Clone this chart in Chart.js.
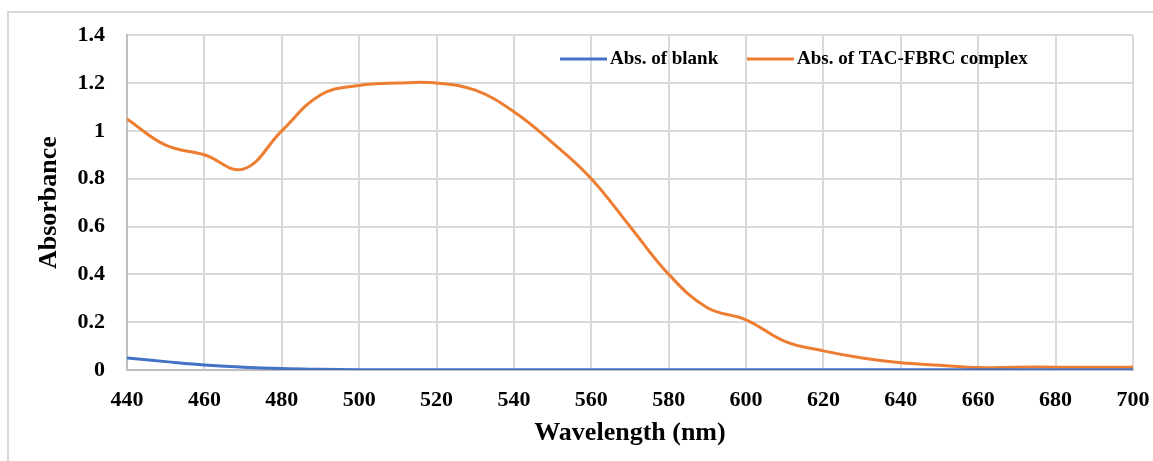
<!DOCTYPE html>
<html>
<head>
<meta charset="utf-8">
<script src="https://cdn.jsdelivr.net/npm/chart.js@4"></script>
<style>
  html, body { margin: 0; padding: 0; background: #fff; }
  #wrap { width: 1153px; height: 461px; position: relative; }
</style>
</head>
<body>
<div id="wrap"><canvas id="grafico"></canvas></div>
<script>
const longitudes = [440, 450, 460, 470, 480, 490, 500, 510, 520, 530, 540, 550, 560, 570, 580, 590, 600, 610, 620, 630, 640, 650, 660, 670, 680, 690, 700];
const absBlanco = [0.05, 0.035, 0.021, 0.012, 0.006, 0.003, 0.001, 0.001, 0.001, 0.001, 0.001, 0.001, 0.001, 0.001, 0.001, 0.001, 0.001, 0.001, 0.001, 0.001, 0.001, 0.001, 0.001, 0.001, 0.001, 0.001, 0.001];
const absComplejo = [1.05, 0.94, 0.90, 0.84, 1.0, 1.15, 1.19, 1.20, 1.20, 1.17, 1.08, 0.95, 0.80, 0.60, 0.40, 0.26, 0.21, 0.12, 0.08, 0.05, 0.03, 0.02, 0.01, 0.012, 0.012, 0.012, 0.012];
const etiquetas = ["Abs. of blank", "Abs. of TAC-FBRC complex"];
const ticksY = [0, 0.2, 0.4, 0.6, 0.8, 1, 1.2, 1.4];

const fuente = "'Liberation Serif', 'Times New Roman', serif";

// leyenda dibujada dentro del área del gráfico, como en el original
const leyendaInterna = {
  id: "leyendaInterna",
  beforeDraw(chart) {
    const c = chart.ctx;
    c.save();
    c.strokeStyle = "#d9d9d9";
    c.lineWidth = 2;
    c.strokeRect(8, 12, 1160, 470);
    c.restore();
  },
  afterDraw(chart) {
    const c = chart.ctx;
    const items = [
      { x: 560, ds: chart.data.datasets[0] },
      { x: 747, ds: chart.data.datasets[1] }
    ];
    c.save();
    c.font = "bold 19px " + fuente;
    c.textBaseline = "middle";
    items.forEach(it => {
      c.strokeStyle = it.ds.borderColor;
      c.lineWidth = 3;
      c.beginPath();
      c.moveTo(it.x, 59);
      c.lineTo(it.x + 47, 59);
      c.stroke();
      c.fillStyle = "#000";
      c.fillText(it.ds.label, it.x + 50, 59);
    });
    c.restore();
  }
};

new Chart(document.getElementById("grafico"), {
  type: "line",
  data: {
    datasets: [
      {
        label: etiquetas[0],
        data: longitudes.map((x, i) => ({ x: x, y: absBlanco[i] })),
        borderColor: "#4472C4",
        borderWidth: 3,
        pointRadius: 0,
        tension: 0.4
      },
      {
        label: etiquetas[1],
        data: longitudes.map((x, i) => ({ x: x, y: absComplejo[i] })),
        borderColor: "#ED7D31",
        borderWidth: 3,
        pointRadius: 0,
        tension: 0.4
      }
    ]
  },
  options: {
    responsive: true,
    maintainAspectRatio: false,
    animation: false,
    layout: { padding: { left: 30, right: 20, top: 34, bottom: 8 } },
    plugins: {
      legend: { display: false },
      tooltip: { enabled: false }
    },
    scales: {
      x: {
        type: "linear",
        min: 440,
        max: 700,
        ticks: {
          stepSize: 20,
          color: "#000",
          padding: 17,
          font: { family: fuente, size: 22, weight: "bold" }
        },
        grid: { color: "#d9d9d9", lineWidth: 2, drawTicks: false },
        border: { color: "#bfbfbf", width: 2 },
        title: {
          display: true,
          text: "Wavelength (nm)",
          color: "#000",
          padding: { top: 6 },
          font: { family: fuente, size: 26, weight: "bold" }
        },
        afterFit(scale) {
          scale.height = 83;
          scale.paddingLeft = 0;
          scale.paddingRight = 0;
        }
      },
      y: {
        min: 0,
        max: 1.4,
        afterBuildTicks(scale) { scale.ticks = ticksY.map(v => ({ value: v })); },
        ticks: {
          color: "#000",
          padding: 22,
          callback: v => String(v),
          font: { family: fuente, size: 22, weight: "bold" }
        },
        grid: { color: "#d9d9d9", lineWidth: 2, drawTicks: false },
        border: { color: "#bfbfbf", width: 2 },
        title: {
          display: true,
          text: "Absorbance",
          color: "#000",
          padding: { bottom: 4 },
          font: { family: fuente, size: 26, weight: "bold" }
        },
        afterFit(scale) { scale.width = 97; }
      }
    }
  },
  plugins: [leyendaInterna]
});
</script>
</body>
</html>
